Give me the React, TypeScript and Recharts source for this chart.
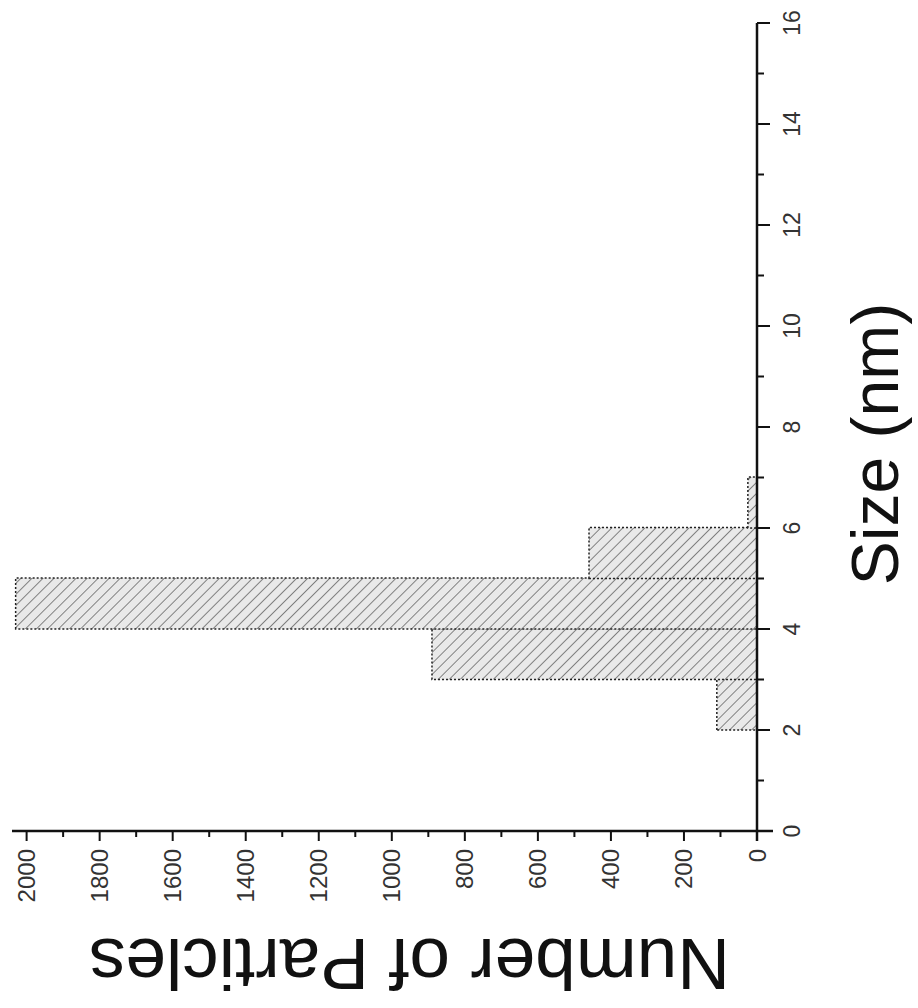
import { BarChart, Bar, XAxis, YAxis, Label } from "recharts";

// histogram bins (nm) and particle counts
const sizeBins = [
  "0-1", "1-2", "2-3", "3-4", "4-5", "5-6", "6-7", "7-8",
  "8-9", "9-10", "10-11", "11-12", "12-13", "13-14", "14-15", "15-16",
];
const binStarts = [0, 1, 2, 3, 4, 5, 6, 7, 8, 9, 10, 11, 12, 13, 14, 15];
const particleCounts = [0, 0, 110, 890, 2030, 460, 25, 0, 0, 0, 0, 0, 0, 0, 0, 0];

const sizeTicks = [0, 1, 2, 3, 4, 5, 6, 7, 8, 9, 10, 11, 12, 13, 14, 15, 16];
const countTicks = [
  0, 100, 200, 300, 400, 500, 600, 700, 800, 900, 1000,
  1100, 1200, 1300, 1400, 1500, 1600, 1700, 1800, 1900, 2000,
];

const data = sizeBins.map((bin, i) => ({
  bin,
  start: binStarts[i],
  count: particleCounts[i],
}));

const FONT = "'Liberation Sans', Arial, sans-serif";
const INK = "#111";

function SizeTick(props: any) {
  const { x, y, payload } = props;
  const major = payload.value % 2 === 0;
  return (
    <g>
      <line x1={x} x2={x} y1={y} y2={y + (major ? 13 : 7)} stroke={INK} strokeWidth={2} />
      {/* axis runs a little past the origin in the original */}
      {payload.value === 0 && (
        <line x1={x - 10} x2={x} y1={y} y2={y} stroke={INK} strokeWidth={2.5} />
      )}
      {major && (
        <text x={x} y={y + 43} textAnchor="middle" fontSize={23} fontFamily={FONT} fill="#333">
          {payload.value}
        </text>
      )}
    </g>
  );
}

function CountTick(props: any) {
  const { x, y, payload } = props;
  const major = payload.value % 200 === 0;
  return (
    <g>
      <line x1={x} x2={x - (major ? 10 : 6)} y1={y} y2={y} stroke={INK} strokeWidth={2} />
      {payload.value === 0 && (
        <line x1={x} x2={x} y1={y} y2={y + 16} stroke={INK} strokeWidth={2.5} />
      )}
      {major && (
        <text
          x={x - 18}
          y={y}
          textAnchor="end"
          dominantBaseline="central"
          fontSize={24}
          fontFamily={FONT}
          fill="#333"
        >
          {payload.value}
        </text>
      )}
    </g>
  );
}

function SizeTitle(props: any) {
  const vb = props.viewBox;
  return (
    <text
      x={vb.x + vb.width / 2 - 17}
      y={vb.y + 141}
      textAnchor="middle"
      fontSize={66}
      fontFamily={FONT}
      fill={INK}
    >
      Size (nm)
    </text>
  );
}

function CountTitle(props: any) {
  const vb = props.viewBox;
  const x = vb.x + 69;
  const y = vb.y + vb.height / 2 + 25;
  return (
    <text
      x={x}
      y={y}
      transform={`rotate(-90, ${x}, ${y})`}
      textAnchor="middle"
      fontSize={73}
      fontFamily={FONT}
      fill={INK}
    >
      Number of Particles
    </text>
  );
}

export default function App() {
  return (
    <div
      style={{
        position: "absolute",
        left: 0,
        top: 0,
        width: 918,
        height: 1008,
        overflow: "hidden",
        background: "#fff",
      }}
    >
      {/* the figure is printed sideways, so draw it upright and turn it */}
      <div
        style={{
          position: "absolute",
          left: 0,
          top: 0,
          width: 1008,
          height: 918,
          transformOrigin: "0 0",
          transform: "translate(0px, 1008px) rotate(-90deg)",
        }}
      >
        <BarChart
          width={1008}
          height={918}
          data={data}
          margin={{ top: 12, right: 23, bottom: 0, left: 0 }}
          barCategoryGap={0}
          barGap={0}
        >
          <defs>
            <pattern
              id="hatch"
              width="7.8"
              height="10"
              patternUnits="userSpaceOnUse"
              patternTransform="rotate(-45)"
            >
              <rect width="7.8" height="10" fill="#e9e9e9" />
              <line x1="0" y1="0" x2="0" y2="10" stroke="#555" strokeWidth={1.4} />
            </pattern>
          </defs>
          <XAxis
            xAxisId="size"
            dataKey="start"
            type="number"
            scale="linear"
            domain={[0, 16]}
            allowDataOverflow
            ticks={sizeTicks}
            interval={0}
            height={161}
            tickSize={0}
            tickMargin={0}
            tick={<SizeTick />}
            axisLine={{ stroke: INK, strokeWidth: 2.5 }}
          >
            <Label content={<SizeTitle />} />
          </XAxis>
          <XAxis xAxisId="bins" dataKey="bin" type="category" height={0} hide />
          <YAxis
            type="number"
            domain={[0, 2040]}
            ticks={countTicks}
            interval={0}
            width={177}
            tickSize={0}
            tickMargin={0}
            tick={<CountTick />}
            axisLine={{ stroke: INK, strokeWidth: 2.5 }}
          >
            <Label content={<CountTitle />} />
          </YAxis>
          <Bar
            xAxisId="bins"
            dataKey="count"
            fill="url(#hatch)"
            stroke="#222"
            strokeWidth={1.5}
            strokeDasharray="2 2"
            isAnimationActive={false}
          />
        </BarChart>
      </div>
    </div>
  );
}
